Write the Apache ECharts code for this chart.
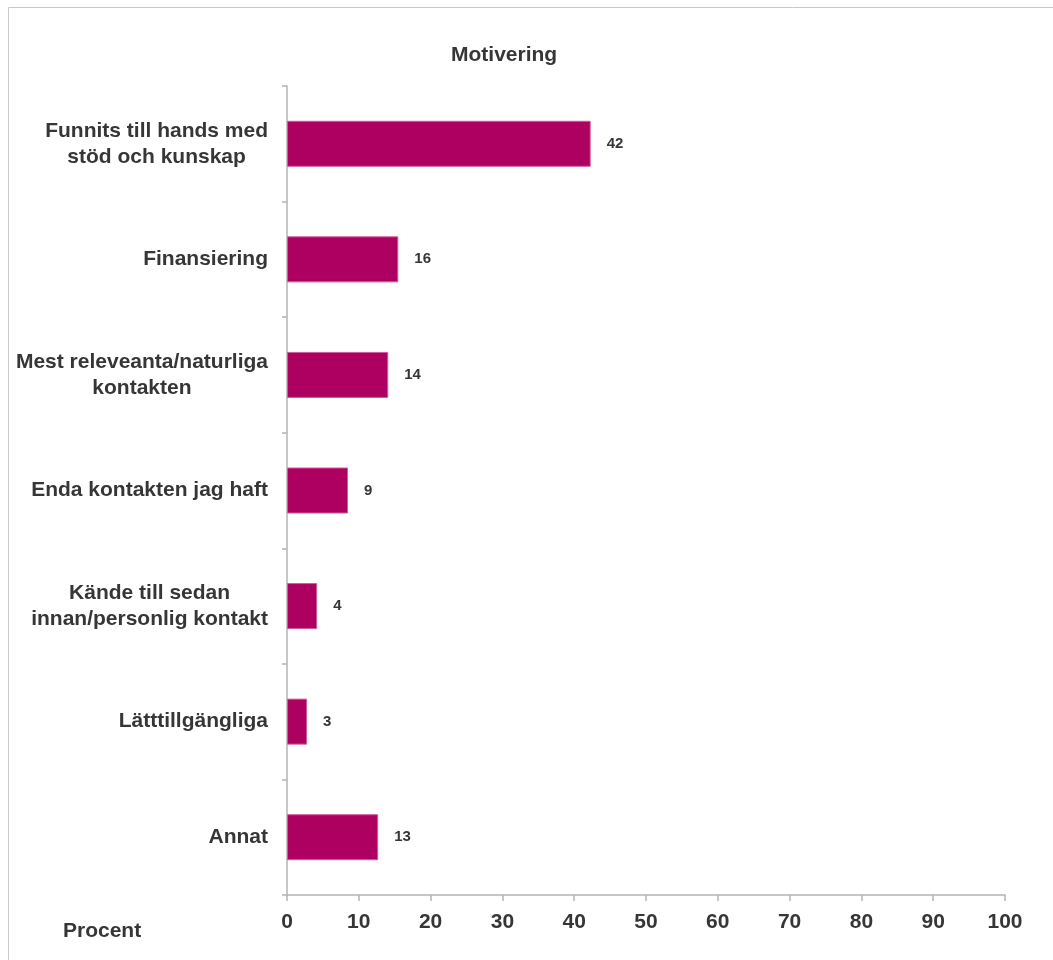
<!DOCTYPE html>
<html>
<head>
<meta charset="utf-8">
<script src="https://cdn.jsdelivr.net/npm/echarts@6/dist/echarts.min.js"></script>
<style>
html,body{margin:0;padding:0;background:#fff;}
#chart{width:1053px;height:960px;}
</style>
</head>
<body>
<div id="chart"></div>
<script>
var categories = [
  'Funnits till hands med\nstöd och kunskap',
  'Finansiering',
  'Mest releveanta/naturliga\nkontakten',
  'Enda kontakten jag haft',
  'Kände till sedan\ninnan/personlig kontakt',
  'Lätttillgängliga',
  'Annat'
];
var values = [42.3, 15.5, 14.1, 8.5, 4.2, 2.8, 12.7];
var valueLabels = ['42', '16', '14', '9', '4', '3', '13'];
var titleText = 'Motivering';
var axisTitle = 'Procent';

var FONT = '"Liberation Sans", Arial, sans-serif';
var TEXT = '#363636';
var chart = echarts.init(document.getElementById('chart'), null, {renderer: 'canvas'});
chart.setOption({
  backgroundColor: '#ffffff',
  animation: false,
  title: {
    text: titleText,
    left: 446, top: 40,
    textStyle: {fontFamily: FONT, fontSize: 21, fontWeight: 'bold', color: TEXT}
  },
  graphic: [
    {type: 'rect', shape: {x: 8.5, y: 7.5, width: 1200, height: 1100},
     style: {fill: 'none', stroke: '#c8c8c8', lineWidth: 1}, silent: true},
    {type: 'text', left: 63, top: 921,
     style: {text: axisTitle, font: 'bold 21px ' + FONT, fill: TEXT}}
  ],
  grid: {left: 287, right: 48, top: 86, bottom: 65, containLabel: false},
  xAxis: {
    type: 'value', min: 0, max: 100, interval: 10,
    axisLine: {show: true, lineStyle: {color: '#b4b4b4', width: 1.5}},
    axisTick: {show: true, length: 6, lineStyle: {color: '#b4b4b4', width: 1.5}},
    splitLine: {show: false},
    axisLabel: {margin: 17, fontFamily: FONT, fontSize: 21, fontWeight: 'bold', color: TEXT}
  },
  yAxis: {
    type: 'category', data: categories, inverse: true,
    axisLine: {show: true, lineStyle: {color: '#b4b4b4', width: 1.5}},
    axisTick: {show: true, length: 5, lineStyle: {color: '#b4b4b4', width: 1.5}},
    axisLabel: {
      margin: 19, align: 'right',
      formatter: function (v) {
        return v.split('\n').map(function (l) { return '{a|' + l + '}'; }).join('\n');
      },
      rich: {a: {align: 'center', fontFamily: FONT, fontSize: 21, fontWeight: 'bold', color: TEXT, lineHeight: 26}}
    }
  },
  series: [{
    type: 'bar', data: values, barWidth: 46,
    itemStyle: {color: '#ad0061', borderColor: '#cf5b9b', borderWidth: 1},
    label: {
      show: true, position: 'right', distance: 16,
      formatter: function (p) { return valueLabels[p.dataIndex]; },
      fontFamily: FONT, fontSize: 15, fontWeight: 'bold', color: TEXT
    }
  }]
});
</script>
</body>
</html>
